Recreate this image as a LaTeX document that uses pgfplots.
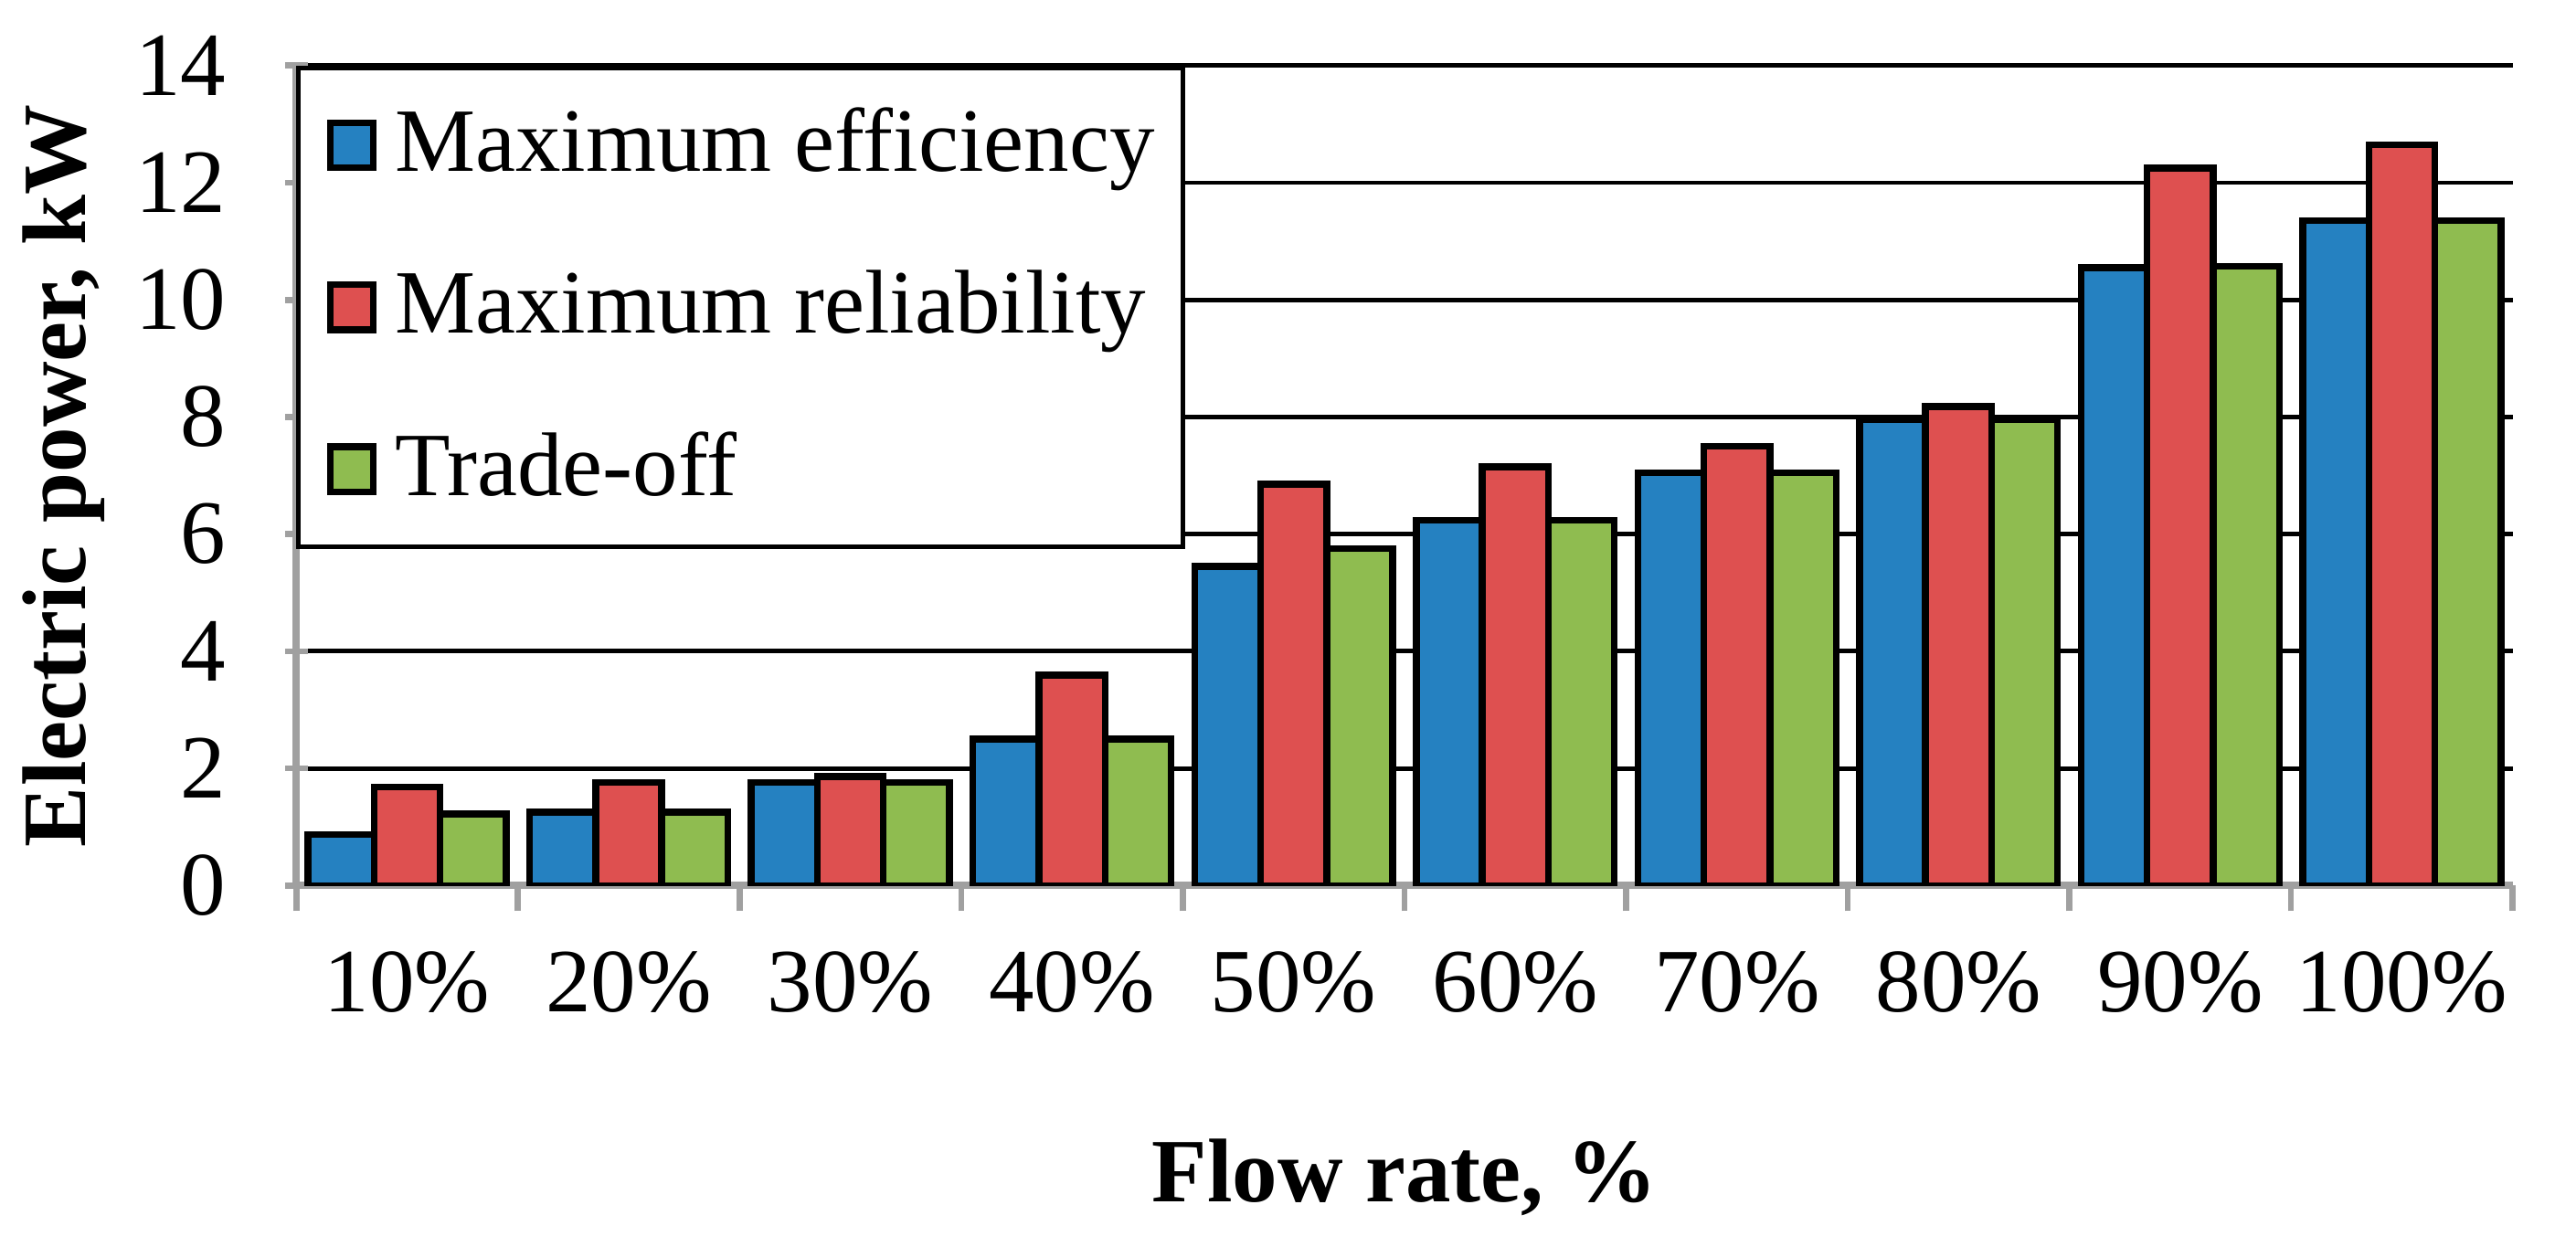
\documentclass[border=0pt]{standalone}
\usepackage{fontspec}
\setmainfont{Liberation Serif}
\usepackage{pgfplots}
\pgfplotsset{compat=1.18}

\definecolor{effblue}{RGB}{37,129,193}
\definecolor{relred}{RGB}{222,80,80}
\definecolor{tradegreen}{RGB}{143,188,80}
\definecolor{axgray}{RGB}{160,160,160}

\begin{document}
\begin{tikzpicture}[font=\fontsize{12}{14}\selectfont]
\begin{axis}[
  width=294pt, height=108.8pt, scale only axis,
  ymin=0, ymax=14, ytick={0,2,...,14},
  xmin=-0.5, xmax=9.5,
  xtick={0,...,9},
  xticklabels={10\%,20\%,30\%,40\%,50\%,60\%,70\%,80\%,90\%,100\%},
  minor xtick={-0.5,0.5,...,9.5},
  major x tick style={draw=none},
  tick align=outside,
  major tick length=3pt, minor tick length=3.4pt,
  tick style={axgray, line width=0.8pt},
  axis x line=bottom, axis y line=left,
  axis line style={-, axgray, line width=1pt},
  ymajorgrids, grid style={black, line width=0.6pt},
  /pgf/number format/assume math mode=true,
  tick label style={font=\fontsize{12}{14}\selectfont},
  xticklabel style={yshift=-2.2pt},
  yticklabel style={xshift=-4.3pt},
  ylabel={\textbf{Electric power, kW}},
  xlabel={\textbf{Flow rate, \%}},
  ylabel style={at={([xshift=-30.8pt]axis description cs:0,0.5)}, anchor=center, inner sep=0pt},
  xlabel style={at={([yshift=-42pt]axis description cs:0.5,0)}, anchor=base},
  ybar, bar width=0.298,
  every axis plot/.append style={draw=black, line width=0.9pt},
  legend style={at={(0,1)}, anchor=north west, draw=black, line width=0.6pt,
    fill=white, inner xsep=3.8pt, inner ysep=3.3pt, row sep=7.6pt,
    nodes={inner xsep=0pt},
    font=\fontsize{12}{14}\selectfont},
  legend cell align=left,
  legend image code/.code={%
    \draw[#1, line width=0.9pt] (0pt,-3pt) rectangle (5.7pt,3pt);
    \path (8.1pt,0pt);},
]
\addplot[fill=effblue, bar shift=-0.298] coordinates {
  (0,0.87) (1,1.25) (2,1.76) (3,2.50) (4,5.45) (5,6.24) (6,7.05) (7,7.95) (8,10.55) (9,11.35)};
\addplot[fill=relred, bar shift=0] coordinates {
  (0,1.68) (1,1.76) (2,1.86) (3,3.59) (4,6.85) (5,7.15) (6,7.50) (7,8.18) (8,12.25) (9,12.65)};
\addplot[fill=tradegreen, bar shift=0.298] coordinates {
  (0,1.22) (1,1.25) (2,1.76) (3,2.50) (4,5.75) (5,6.24) (6,7.05) (7,7.95) (8,10.57) (9,11.35)};
\legend{Maximum efficiency, Maximum reliability, Trade-off}
\end{axis}
\path (current axis.south west) +(-39.3pt,-47.9pt) (current axis.north east) +(8.4pt,8.7pt);
\end{tikzpicture}
\end{document}
